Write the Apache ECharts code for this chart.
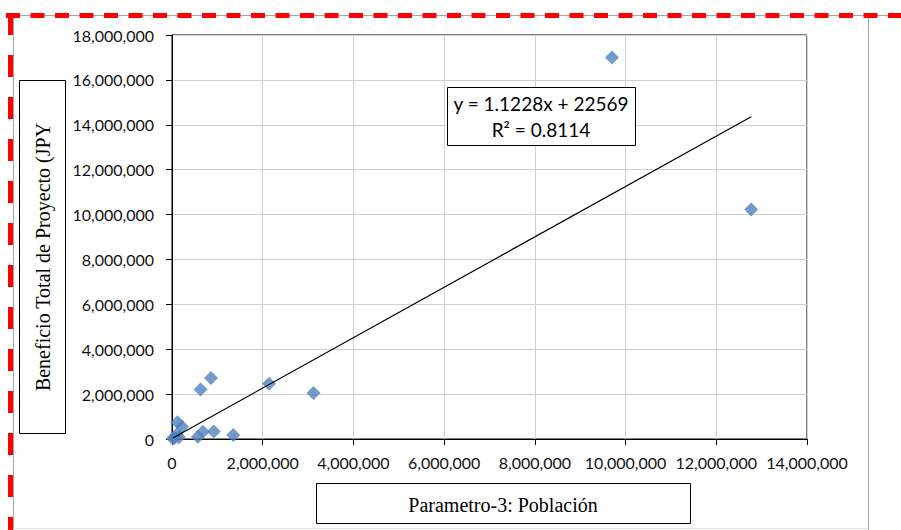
<!DOCTYPE html>
<html>
<head>
<meta charset="utf-8">
<script src="https://cdn.jsdelivr.net/npm/echarts@6/dist/echarts.min.js"></script>
<style>
  html, body { margin: 0; padding: 0; background: #fff; }
  #chart { width: 901px; height: 530px; }
</style>
</head>
<body>
<div id="chart"></div>
<script>
// Parametro-3: Poblacion (x) vs Beneficio Total de Proyecto (y)
const poblacion = [9700000, 12770000, 2140000, 3120000, 860000, 630000, 1350000, 920000,
  680000, 570000, 120000, 220000, 50000, 150000, 20000, 100000]
const beneficio = [17000000, 10220000, 2460000, 2050000, 2720000, 2200000, 180000, 330000,
  320000, 100000, 750000, 550000, 50000, 80000, 20000, 200000]

// linea de tendencia (Excel)
const pendiente = 1.1228
const intercepto = 22569
const r2 = 0.8114

const fmt = v => Number(v).toLocaleString('en-US')

let points = poblacion.map((x, i) => [x, beneficio[i]])
let xMin = Math.min(...poblacion)
let xMax = Math.max(...poblacion)
let trend = [[xMin, pendiente * xMin + intercepto], [xMax, pendiente * xMax + intercepto]]

const labelFont = 'Lato, "Open Sans", sans-serif'
const serif = '"Liberation Serif", "DejaVu Serif", serif'

let chart = echarts.init(document.getElementById('chart'), null, { renderer: 'svg' })
chart.setOption({
  animation: false,
  backgroundColor: '#fff',
  grid: {
    left: 172, top: 35, right: 94, bottom: 91,
    show: true, borderColor: '#000', borderWidth: 1
  },
  xAxis: {
    type: 'value', min: 0, max: 14000000, interval: 2000000,
    axisLine: { onZero: false, lineStyle: { color: '#000', width: 1 } },
    axisTick: { show: true, length: 6, lineStyle: { color: '#000' } },
    splitLine: { show: true, lineStyle: { color: '#d0d0d0', width: 1 } },
    axisLabel: { formatter: fmt, color: '#111', fontSize: 16, fontFamily: labelFont, margin: 15 }
  },
  yAxis: {
    type: 'value', min: 0, max: 18000000, interval: 2000000,
    axisLine: { show: true, onZero: false, lineStyle: { color: '#000', width: 1 } },
    axisTick: { show: true, length: 6, lineStyle: { color: '#000' } },
    splitLine: { show: true, lineStyle: { color: '#d0d0d0', width: 1 } },
    axisLabel: { formatter: fmt, color: '#111', fontSize: 16, fontFamily: labelFont, margin: 18 }
  },
  series: [
    {
      name: 'Beneficio',
      type: 'scatter',
      symbol: 'diamond',
      symbolSize: 14,
      itemStyle: { color: '#4f81bd' },
      data: points,
      z: 2
    },
    {
      name: 'Tendencia',
      type: 'line',
      showSymbol: false,
      symbol: 'none',
      lineStyle: { color: '#000', width: 1.2 },
      data: trend,
      z: 3
    }
  ],
  graphic: [
    // marco gris del area del grafico
    { type: 'line', shape: { x1: 7, y1: 15.5, x2: 901, y2: 15.5 }, style: { stroke: '#a6a6a6', lineWidth: 1 }, z: 10 },
    { type: 'line', shape: { x1: 13.5, y1: 15, x2: 13.5, y2: 530 }, style: { stroke: '#a6a6a6', lineWidth: 1 }, z: 10 },
    { type: 'line', shape: { x1: 868.5, y1: 15, x2: 868.5, y2: 530 }, style: { stroke: '#a6a6a6', lineWidth: 1 }, z: 10 },
    { type: 'line', shape: { x1: 13, y1: 528.5, x2: 868, y2: 528.5 }, style: { stroke: '#e0e0e0', lineWidth: 1 }, z: 10 },
    // borde rojo discontinuo
    { type: 'line', shape: { x1: 6, y1: 15.5, x2: 901, y2: 15.5 }, style: { stroke: '#ff0000', lineWidth: 5, lineDash: [14, 10.5] }, z: 11 },
    { type: 'line', shape: { x1: 10.5, y1: 13, x2: 10.5, y2: 530 }, style: { stroke: '#ff0000', lineWidth: 5, lineDash: [22, 20] }, z: 11 },
    // titulo eje Y
    { type: 'rect', shape: { x: 19.5, y: 80.5, width: 46, height: 353 }, style: { fill: '#fff', stroke: '#000', lineWidth: 1 }, z: 12 },
    {
      type: 'text', x: 43, y: 257, rotation: Math.PI / 2, z: 13,
      style: { text: 'Beneficio Total de Proyecto (JPY', font: '20px ' + serif, fill: '#000', textAlign: 'center', textVerticalAlign: 'middle' }
    },
    // titulo eje X
    { type: 'rect', shape: { x: 316.5, y: 483.5, width: 374, height: 40 }, style: { fill: '#fff', stroke: '#000', lineWidth: 1 }, z: 12 },
    {
      type: 'text', x: 503, y: 505, z: 13,
      style: { text: 'Parametro-3: Población', font: '20px ' + serif, fill: '#000', textAlign: 'center', textVerticalAlign: 'middle' }
    },
    // ecuacion de la tendencia
    { type: 'rect', shape: { x: 447.5, y: 87.5, width: 188, height: 58 }, style: { fill: '#fff', stroke: '#000', lineWidth: 1 }, z: 12 },
    {
      type: 'text', x: 541, y: 103, z: 13,
      style: { text: 'y = ' + pendiente + 'x + ' + intercepto, font: '19px ' + labelFont, fill: '#000', textAlign: 'center', textVerticalAlign: 'middle' }
    },
    {
      type: 'text', x: 541, y: 129, z: 13,
      style: { text: 'R² = ' + r2, font: '19px ' + labelFont, fill: '#000', textAlign: 'center', textVerticalAlign: 'middle' }
    }
  ]
})
</script>
</body>
</html>
